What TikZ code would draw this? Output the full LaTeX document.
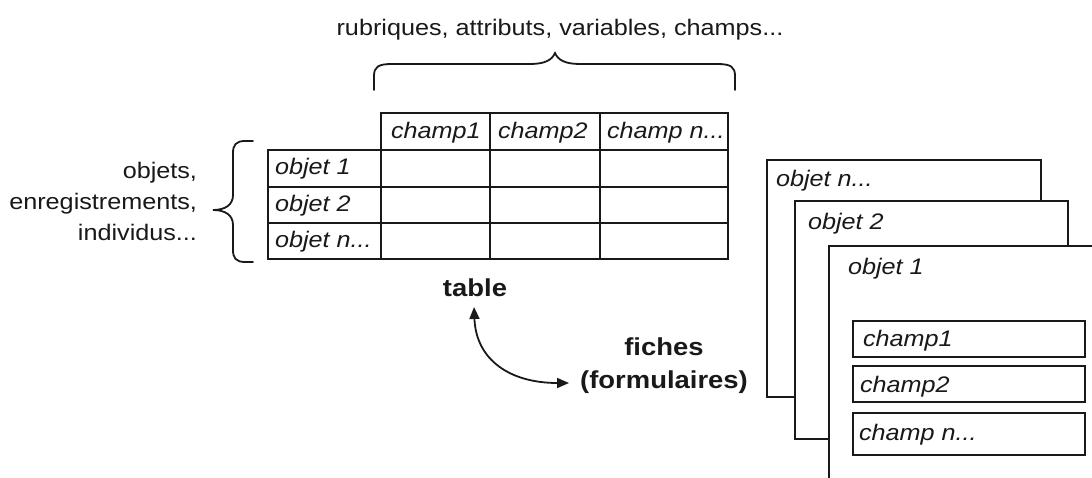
\documentclass[tikz,border=0pt]{standalone}
\usepackage{fontspec}
\setmainfont[FakeStretch=1.12]{Liberation Sans}
\usetikzlibrary{arrows.meta}
\begin{document}
\begin{tikzpicture}[x=1pt,y=-1pt,
  every node/.style={inner sep=0pt, outer sep=0pt, text=black!90},
  lbl/.style={font=\fontsize{22.5}{31}\selectfont},
  cell/.style={font=\fontsize{22.5}{27}\selectfont\itshape, anchor=base west},
  bold/.style={font=\fontsize{24.5}{33}\selectfont\bfseries, anchor=base},
  grid/.style={line width=1.6pt, draw=black!90},
  brace/.style={line width=1.8pt, draw=black!90, line cap=round},
  card/.style={line width=1.6pt, draw=black!90, fill=white},
  biarrow/.style={line width=1.8pt, draw=black!90, {Triangle[length=12pt,width=10pt]}-{Triangle[length=12pt,width=10pt]}}
]
\path[use as bounding box, clip] (0,0) rectangle (1092,478);
\fill[white] (0,0) rectangle (1092,478);

% top label and brace
\node[lbl, anchor=base] (rub) at (560,36) {rubriques, attributs, variables, champs...};
\draw[brace] (374,90) -- (374,76) .. controls (374,67) and (378,64) .. (392,64) -- (530,64)
  .. controls (545,64) and (552,60) .. (555,53) .. controls (558,60) and (565,64) .. (580,64)
  -- (717,64) .. controls (731,64) and (735,67) .. (735,76) -- (735,90);

% left label and brace
\node[lbl, anchor=east, align=right] (obj) at (197,201) {objets,\\enregistrements,\\individus...};
\draw[brace] (253,141) -- (245,141) .. controls (236,141) and (233,145) .. (233,153) -- (233,195)
  .. controls (233,205) and (225,210) .. (213,210) .. controls (225,210) and (233,215) .. (233,225)
  -- (233,250) .. controls (233,258) and (236,262) .. (245,262) -- (253,262);

% table grid
\draw[grid] (381,113) rectangle (728,150);
\draw[grid] (268,150) rectangle (728,259);
\draw[grid] (268,187) -- (728,187) (268,223) -- (728,223);
\draw[grid] (381,113) -- (381,259) (490,113) -- (490,259) (600,113) -- (600,259);

\node[cell] (h1) at (391,139) {champ1};
\node[cell] (h2) at (498,139) {champ2};
\node[cell] (h3) at (607,139) {champ n...};
\node[cell] (r1) at (275,175) {objet 1};
\node[cell] (r2) at (275,212) {objet 2};
\node[cell] (r3) at (275,248) {objet n...};

% labels and arrow
\node[bold] (tbl) at (475,297) {table};
\node[bold] (fiches) at (664,355) {fiches};
\node[bold] (formul) at (664,388) {(formulaires)};
\coordinate (arrA) at (474,307);
\coordinate (arrB) at (569,383);
\draw[biarrow] (arrA) .. controls (476,360) and (510,383) .. (arrB);

% cards
\draw[card] (767,160) rectangle (1041,397);
\node[cell] (c3) at (776,187) {objet n...};
\draw[card] (795,201) rectangle (1068,439);
\node[cell] (c2) at (808,230) {objet 2};
\draw[card] (829,246) rectangle (1110,500);
\node[cell] (c1) at (848,275) {objet 1};

\draw[grid] (853,321) rectangle (1085,357);
\draw[grid] (853,366) rectangle (1085,402);
\draw[grid] (853,413) rectangle (1085,455);
\node[cell] (f1) at (863,346) {champ1};
\node[cell] (f2) at (860,392) {champ2};
\node[cell] (f3) at (859,440) {champ n...};
\end{tikzpicture}
\end{document}
